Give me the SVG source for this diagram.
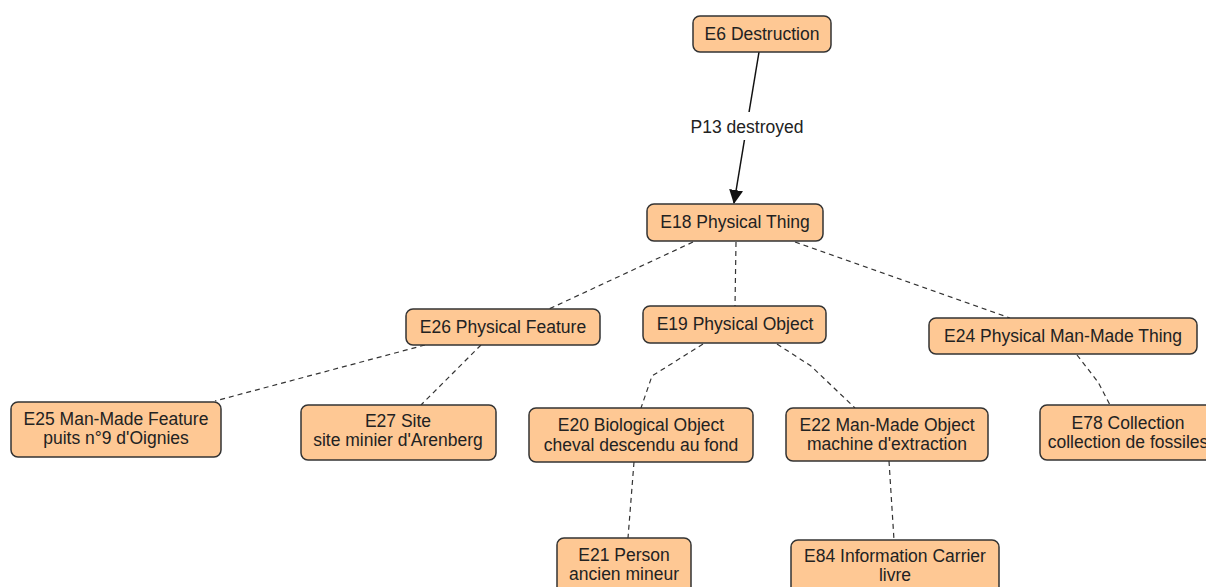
<svg xmlns="http://www.w3.org/2000/svg" width="1206" height="587" viewBox="0 0 1206 587">
<defs>
<style>
.n rect{fill:#fec894;stroke:#333;stroke-width:1.5}
text{font-family:"Liberation Sans",Arial,sans-serif;font-size:17.5px;fill:#222;text-anchor:middle}
.d{fill:none;stroke:#333;stroke-width:1.2;stroke-dasharray:5,4}
.s{fill:none;stroke:#111;stroke-width:1.5}
</style>
<marker id="ah" markerWidth="14" markerHeight="14" refX="13" refY="7" orient="auto" markerUnits="userSpaceOnUse">
<path d="M0,0 L14,7 L0,14 z" fill="#111"/>
</marker>
</defs>
<rect width="1206" height="587" fill="#fff"/>
<g id="connectors">
<line class="s" x1="759" y1="52" x2="734" y2="203" marker-end="url(#ah)"/>
<rect x="684" y="112" width="126" height="28" fill="#fff"/>
<text x="747" y="133">P13 destroyed</text>
<line class="d" x1="693" y1="242" x2="549" y2="309"/>
<line class="d" x1="736" y1="242" x2="735" y2="306"/>
<line class="d" x1="795" y1="242" x2="1010" y2="318"/>
<line class="d" x1="425" y1="345" x2="215" y2="401"/>
<line class="d" x1="481" y1="345" x2="421" y2="405"/>
<polyline class="d" points="703,344 652,376 641,408"/>
<polyline class="d" points="777,344 811,366 855,408"/>
<polyline class="d" points="1077,355 1098,382 1110,405"/>
<line class="d" x1="634" y1="462" x2="628" y2="538"/>
<line class="d" x1="889" y1="461" x2="894" y2="540"/>
</g>
<g id="E6" class="n"><rect x="693" y="16" width="138" height="36" rx="7"/><text x="762" y="40">E6 Destruction</text></g>
<g id="E18" class="n"><rect x="647" y="204" width="176" height="37" rx="7"/><text x="735" y="228">E18 Physical Thing</text></g>
<g id="E26" class="n"><rect x="406" y="309" width="194" height="36" rx="7"/><text x="503" y="333">E26 Physical Feature</text></g>
<g id="E19" class="n"><rect x="643" y="306" width="183" height="37" rx="7"/><text x="735" y="330">E19 Physical Object</text></g>
<g id="E24" class="n"><rect x="929" y="318" width="268" height="36" rx="7"/><text x="1063" y="342">E24 Physical Man-Made Thing</text></g>
<g id="E25" class="n"><rect x="11" y="402" width="210" height="55" rx="7"/><text x="116" y="425">E25 Man-Made Feature</text><text x="116" y="444">puits n°9 d'Oignies</text></g>
<g id="E27" class="n"><rect x="301" y="405" width="195" height="55" rx="7"/><text x="398" y="427">E27 Site</text><text x="398" y="446">site minier d'Arenberg</text></g>
<g id="E20" class="n"><rect x="529" y="408" width="224" height="54" rx="7"/><text x="641" y="431">E20 Biological Object</text><text x="641" y="451">cheval descendu au fond</text></g>
<g id="E22" class="n"><rect x="786" y="408" width="202" height="53" rx="7"/><text x="887" y="431">E22 Man-Made Object</text><text x="887" y="450">machine d'extraction</text></g>
<g id="E78" class="n"><rect x="1040" y="405" width="176" height="55" rx="7"/><text x="1128" y="429">E78 Collection</text><text x="1128" y="448">collection de fossiles</text></g>
<g id="E21" class="n"><rect x="557" y="538" width="134" height="56" rx="7"/><text x="624" y="561">E21 Person</text><text x="624" y="580">ancien mineur</text></g>
<g id="E84" class="n"><rect x="791" y="540" width="208" height="56" rx="7"/><text x="895" y="562">E84 Information Carrier</text><text x="895" y="581">livre</text></g>
</svg>
